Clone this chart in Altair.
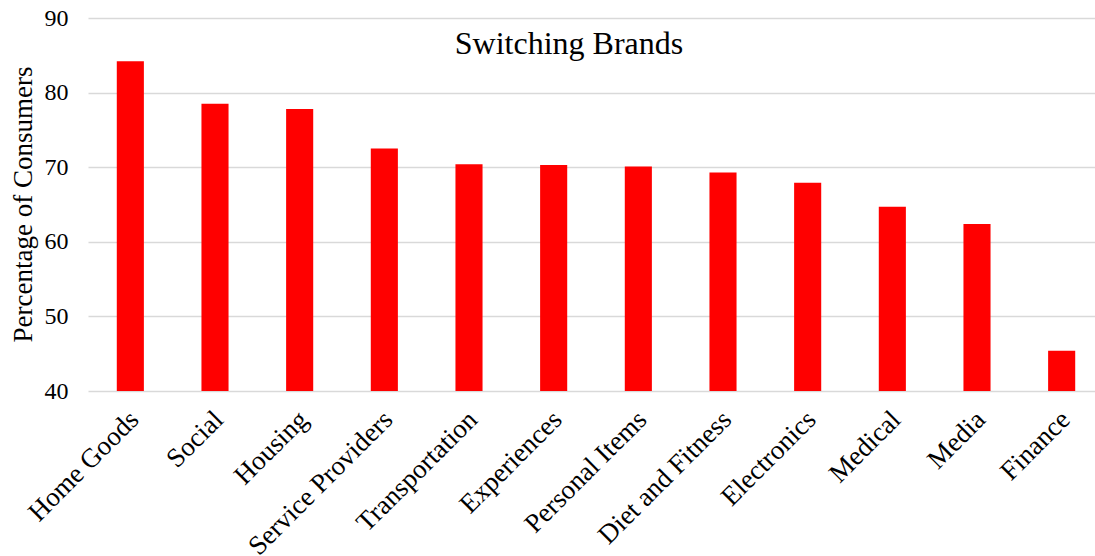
import altair as alt
import pandas as pd

categories = ["Home Goods", "Social", "Housing", "Service Providers", "Transportation",
              "Experiences", "Personal Items", "Diet and Fitness", "Electronics",
              "Medical", "Media", "Finance"]
values = [84.2, 78.5, 77.8, 72.5, 70.4, 70.3, 70.1, 69.3, 67.9, 64.7, 62.4, 45.4]
y_ticks = [40, 50, 60, 70, 80, 90]
chart_title = "Switching Brands"
y_title = "Percentage of Consumers"

FONT = "Liberation Serif"

df = pd.DataFrame({"category": categories, "value": values})

bars = alt.Chart(df).mark_bar(color="#ff0000", clip=True).encode(
    x=alt.X("category:N", sort=categories,
            scale=alt.Scale(range=[0, 1016], paddingInner=0.68, paddingOuter=0.34),
            axis=alt.Axis(title=None, labelAngle=-45, labelAlign="right", labelBaseline="top",
                          labelFont=FONT, labelFontSize=27, labelColor="#000000",
                          labelPadding=15, labelOffset=-5, labelLimit=400,
                          domain=False, ticks=False, labelOverlap=False)),
    y=alt.Y("value:Q", scale=alt.Scale(domain=[40, 90], nice=False, zero=False),
            axis=alt.Axis(values=y_ticks, title=y_title, grid=True, gridColor="#d9d9d9",
                          gridWidth=1.5, domain=False, ticks=False,
                          labelFont=FONT, labelFontSize=24, labelColor="#000000",
                          labelPadding=20, titleFont=FONT, titleFontSize=27,
                          titleFontWeight="normal", titleColor="#000000",
                          titleAngle=-90, titleBaseline="top", titleAlign="center",
                          titleX=-78, titleY=186)),
)

title = alt.Chart(pd.DataFrame({"t": [chart_title]})).mark_text(
    font=FONT, fontSize=32, color="#000000", align="center", baseline="alphabetic"
).encode(text="t:N", x=alt.value(481), y=alt.value(36))

chart = alt.layer(bars, title).properties(
    width=1007, height=373,
    autosize=alt.AutoSizeParams(type="none"),
    padding={"left": 88, "top": 18, "right": 0, "bottom": 165},
).configure_view(stroke=None)

chart.save("out.html", embed_options={"renderer": "svg", "actions": False})
